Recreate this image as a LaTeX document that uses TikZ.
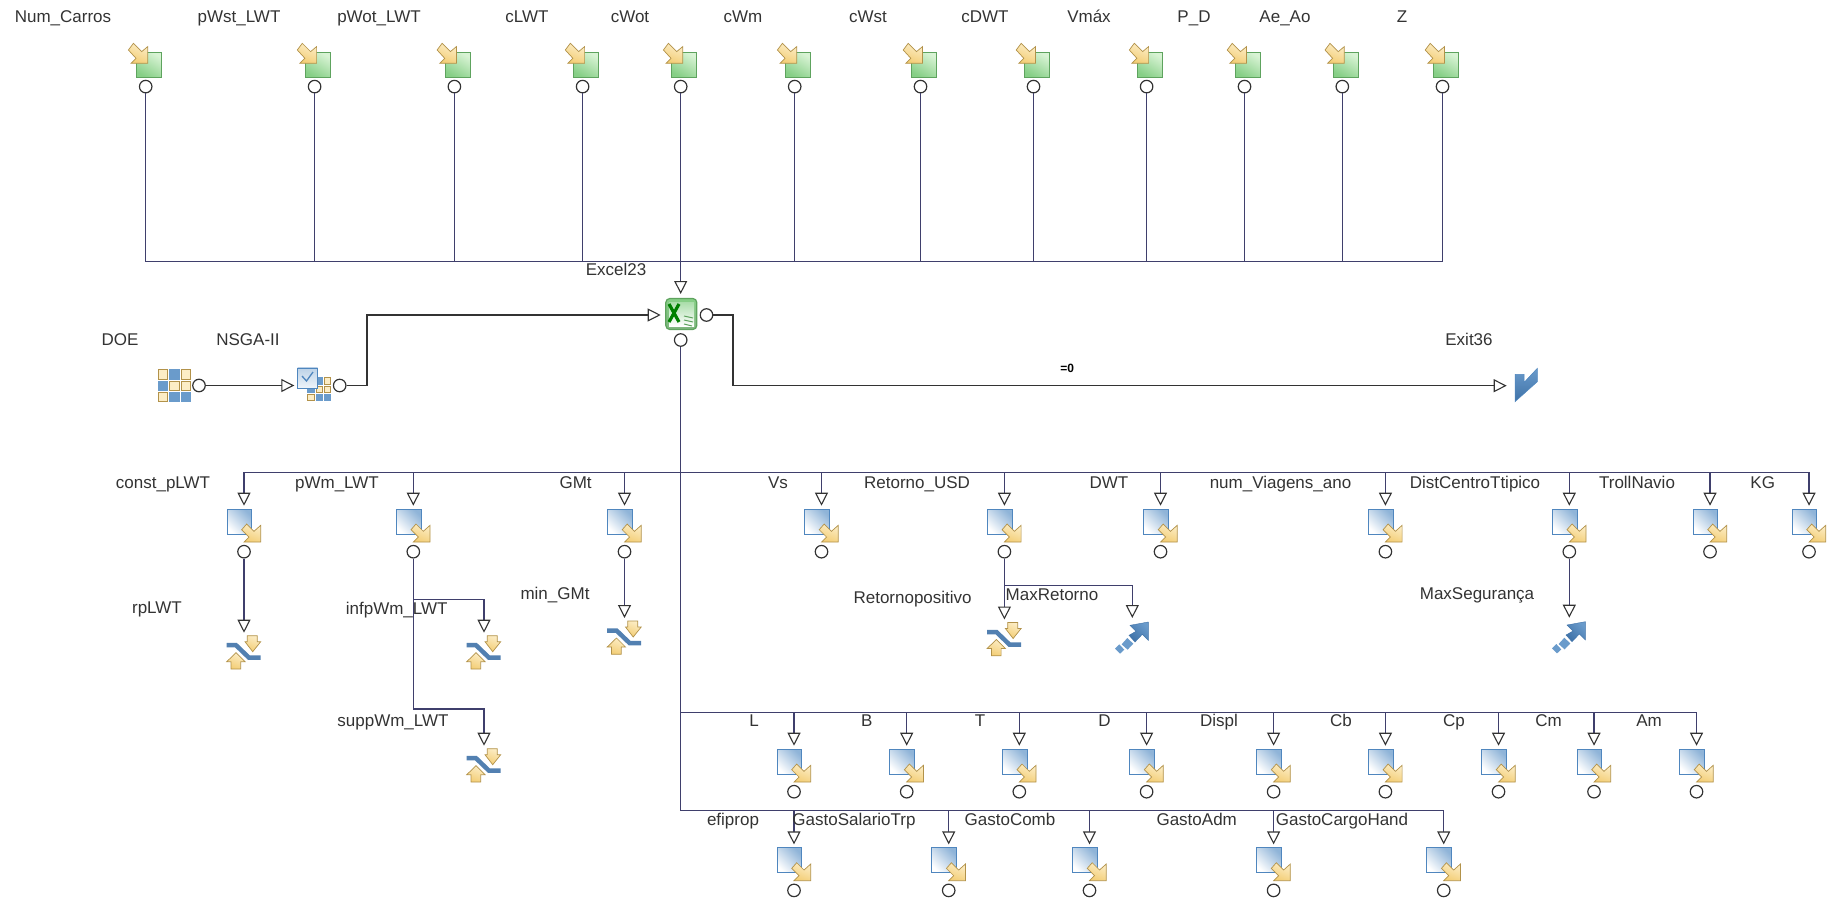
\documentclass[tikz,border=0pt]{standalone}
\usepackage{fontspec}
\setmainfont{Liberation Sans}
\usetikzlibrary{arrows.meta}

\definecolor{wireblue}{HTML}{3F3F6C}
\definecolor{wiredark}{HTML}{333333}
\definecolor{tanedge}{HTML}{B2924A}
\definecolor{tanlight}{HTML}{FCEDC6}
\definecolor{tandark}{HTML}{F3CD74}
\definecolor{steeledge}{HTML}{4F86BE}
\definecolor{steel}{HTML}{6A9BCB}
\definecolor{steeldark}{HTML}{3F72A8}
\definecolor{leaf}{HTML}{5EA35E}
\definecolor{leaflight}{HTML}{D8F3D4}
\definecolor{leafmid}{HTML}{86CF86}

\begin{document}
\begin{tikzpicture}[x=1pt,y=-1pt,>={Triangle[open,length=13pt,width=13pt,color=wiredark,fill=white]},
lbl/.style={font=\fontsize{17}{20}\selectfont,text=black!80,inner sep=0pt,text height=12.5pt,text depth=2pt},
link/.style={draw=wireblue,line width=1.1pt},
linkb/.style={draw=wiredark,line width=1.1pt},
port/.style={circle,draw=wiredark,fill=white,line width=1.2pt,minimum size=12.5pt,inner sep=0pt},
tanfill/.style={draw=tanedge,line width=.7pt,top color=tanlight,bottom color=tandark,shading angle=-20},
pics/varin/.style={code={
  \draw[draw=leaf,line width=.8pt,top color=leaflight,bottom color=leafmid,shading angle=-30] (-9,0) rectangle (16,25);
  \draw[tanfill] (2,-5.7)--(2,11)--(-14.7,11)--(-9.7,6)--(-17.3,-2.3)--(-12.3,-9)--(-4,-.7)--cycle;
  \node[port] (-out) at (0,34.3) {};
}},
pics/varout/.style={code={
  \draw[draw=steeledge,line width=.8pt,top color=steel!75,bottom color=white,shading angle=-45] (-17,0) rectangle (7.7,25);
  \draw[tanfill] (16.7,16.3)--(16.7,33)--(0,33)--(5,28)--(-2.3,20.7)--(2.7,15)--(10,22.3)--cycle;
  \coordinate (-in) at (0,-3.3);
  \node[port] (-out) at (0,42.7) {};
}},
pics/constr/.style={code={
  \coordinate (-in) at (0,0);
  \draw[tanfill] (3.3,3)--(13.3,3)--(13.3,9)--(16.7,9)--(8.7,19)--(1,9)--(3.3,9)--cycle;
  \draw[draw=steeldark!90!white,line width=4.5pt] (-17.3,12.5)--(-8,12.5)--(5,25)--(16.7,25);
  \draw[tanfill] (-8,20)--(1,29)--(-3.3,29)--(-3.3,36.3)--(-13,36.3)--(-13,29)--(-17.3,29)--cycle;
}},
pics/goal/.style={code={
  \coordinate (-in) at (0,0);
  \draw[draw=steeldark,top color=steel,bottom color=steeldark,shading angle=-45,line width=.4pt] (-2.3,7.3)--(16,4)--(16,22.3)--(10,16.3)--(2.7,24)--(-3.3,17.3)--(3.7,13.3)--cycle;
  \fill[steel] (-10.7,26.3)--(-5,20)--(1,25.7)--(-4.7,31.7)--cycle;
  \fill[steel] (-17.3,30.7)--(-13,26.3)--(-8,31.7)--(-12.3,35.7)--cycle;
}}]
\useasboundingbox (0,0) rectangle (1827,897);

% top row
\pic (NumCarros) at (145.7,52.3) {varin};
\pic (pWstLWT) at (314.6,52.3) {varin};
\pic (pWotLWT) at (454.4,52.3) {varin};
\pic (cLWT) at (582.6,52.3) {varin};
\pic (cWot) at (680.7,52.3) {varin};
\pic (cWm) at (794.7,52.3) {varin};
\pic (cWst) at (920.5,52.3) {varin};
\pic (cDWT) at (1033.5,52.3) {varin};
\pic (Vmax) at (1146.6,52.3) {varin};
\pic (PD) at (1244.5,52.3) {varin};
\pic (AeAo) at (1342.3,52.3) {varin};
\pic (Z) at (1442.5,52.3) {varin};
\node[lbl] (lNumCarros) at (63,17) {Num\_Carros};
\node[lbl] (lpWstLWT) at (239,17) {pWst\_LWT};
\node[lbl] (lpWotLWT) at (379,17) {pWot\_LWT};
\node[lbl] (lcLWT) at (527,17) {cLWT};
\node[lbl] (lcWot) at (630,17) {cWot};
\node[lbl] (lcWm) at (743,17) {cWm};
\node[lbl] (lcWst) at (868,17) {cWst};
\node[lbl] (lcDWT) at (985,17) {cDWT};
\node[lbl] (lVmax) at (1089,17) {Vmáx};
\node[lbl] (lPD) at (1194,17) {P\_D};
\node[lbl] (lAeAo) at (1285,17) {Ae\_Ao};
\node[lbl] (lZ) at (1402,17) {Z};
\coordinate (busT) at (680.7,261.3);
\draw[link] (NumCarros-out) |- (busT);
\draw[link] (pWstLWT-out) |- (busT);
\draw[link] (pWotLWT-out) |- (busT);
\draw[link] (cLWT-out) |- (busT);
\draw[link] (cWm-out) |- (busT);
\draw[link] (cWst-out) |- (busT);
\draw[link] (cDWT-out) |- (busT);
\draw[link] (Vmax-out) |- (busT);
\draw[link] (PD-out) |- (busT);
\draw[link] (AeAo-out) |- (busT);
\draw[link] (Z-out) |- (busT);

% excel block
\node[draw=leaf,line width=1.2pt,rounded corners=4pt,minimum size=31pt,inner sep=0pt,top color=leafmid,bottom color=leaf!80] (excel) at (681.3,314) {};
\shade[top color=leafmid!70,bottom color=white] (669,302) rectangle (694,326);
\draw[draw=green!50!black,line width=3.2pt] (669,304)--(679,322) (679,304)--(669,322);
\draw[draw=leaf,line width=1pt] (684,316)--(693,318) (684,320)--(693,322) (684,324)--(692,326);
\node[port] (excelE) at (706.5,315) {};
\node[port] (excelS) at (680.7,340) {};
\coordinate (excelN) at (680.7,294);
\coordinate (excelW) at (660.7,315);
\draw[link,->] (cWot-out)--(excelN);
\node[lbl] (lExcel) at (616,270) {Excel23};

% DOE and optimizer
\foreach \cx/\cy/\cc/\ce in {0/0/tanlight/tanedge,1/0/steel/steel,2/0/tanlight/tanedge,0/1/steel/steel,1/1/tanlight/tanedge,2/1/tanlight/tanedge,0/2/tanlight/tanedge,1/2/steel/steel,2/2/steel/steel}
  \draw[draw=\ce,line width=.7pt,fill=\cc] (158+\cx*11.6,369.5+\cy*11.4) rectangle +(9.5,9.5);
\node[port] (doeE) at (199,385.5) {};
\node[lbl] (lDOE) at (120,340) {DOE};
\foreach \cx/\cy/\cc/\ce in {1/0/steel/steel,2/0/tanlight/tanedge,0/1/steel/steel,1/1/tanlight/tanedge,2/1/tanlight/tanedge,0/2/tanlight/tanedge,1/2/steel/steel,2/2/steel/steel}
  \draw[draw=\ce,line width=.6pt,fill=\cc] (307.5+\cx*8.3,377.7+\cy*8.3) rectangle +(6.3,6.3);
\node[draw=steeledge,line width=.9pt,minimum width=20pt,minimum height=20.5pt,inner sep=0pt,top color=steel!45,bottom color=steel!10] (nsga) at (307.7,378.2) {};
\draw[draw=steeledge,line width=1.3pt] (302,376)--(306.5,381)--(313,372);
\coordinate (nsgaW) at (294.3,385.5);
\node[port] (nsgaE) at (339.7,385.5) {};
\node[lbl] (lNSGA) at (248,340) {NSGA-II};
\draw[linkb,->] (doeE)--(nsgaW);
\coordinate (midN) at (367,350);
\draw[linkb,->] (nsgaE) -| (midN) |- (excelW);

% exit
\draw[draw=steeledge,line width=.5pt,top color=steel,bottom color=steeldark] (1515,374.3)--(1524,374.3)--(1524,382.5)--(1537.3,368.3)--(1537.3,381.7)--(1515,401.7)--cycle;
\coordinate (exitW) at (1506.7,385.7);
\coordinate (midE) at (733,350);
\draw[linkb,->] (excelE) -| (midE) |- node[pos=.716,above=13pt,font=\fontsize{12}{14}\selectfont\bfseries,inner sep=0pt] (lEq) {=0} (exitW);
\node[lbl] (lExit) at (1469,340) {Exit36};

% main trunk
\coordinate (busB) at (680.7,472.7);
\coordinate (busL) at (680.7,712.3);
\coordinate (busG) at (680.7,810.7);
\draw[link] (excelS)--(busG);

% first row
\pic (constpLWT) at (244,509) {varout};
\pic (pWmLWT) at (413.3,509) {varout};
\pic (GMt) at (624.5,509) {varout};
\pic (Vs) at (821.5,509) {varout};
\pic (RetornoUSD) at (1004.4,509) {varout};
\pic (DWT) at (1160.5,509) {varout};
\pic (numViagens) at (1385.4,509) {varout};
\pic (DistCentro) at (1569.3,509) {varout};
\pic (TrollNavio) at (1710,509) {varout};
\pic (KG) at (1809,509) {varout};
\draw[link,->] (busB) -| (constpLWT-in);
\draw[link,->] (busB) -| (pWmLWT-in);
\draw[link,->] (busB) -| (GMt-in);
\draw[link,->] (busB) -| (Vs-in);
\draw[link,->] (busB) -| (RetornoUSD-in);
\draw[link,->] (busB) -| (DWT-in);
\draw[link,->] (busB) -| (numViagens-in);
\draw[link,->] (busB) -| (DistCentro-in);
\draw[link,->] (busB) -| (TrollNavio-in);
\draw[link,->] (busB) -| (KG-in);
\node[lbl] (lconstpLWT) at (163,483.5) {const\_pLWT};
\node[lbl] (lpWmLWT) at (337,483.5) {pWm\_LWT};
\node[lbl] (lGMt) at (575.6,483.5) {GMt};
\node[lbl] (lVs) at (778,483.5) {Vs};
\node[lbl] (lRetornoUSD) at (917,483.5) {Retorno\_USD};
\node[lbl] (lDWT) at (1109,483.5) {DWT};
\node[lbl] (lnumViagens) at (1280.5,483.5) {num\_Viagens\_ano};
\node[lbl] (lDistCentro) at (1475,483.5) {DistCentroTtipico};
\node[lbl] (lTrollNavio) at (1637,483.5) {TrollNavio};
\node[lbl] (lKG) at (1762.7,483.5) {KG};

% constraints and objectives
\pic (rpLWT) at (244,632.7) {constr};
\pic (infpWm) at (484,632.7) {constr};
\pic (suppWm) at (484,745.7) {constr};
\pic (minGMt) at (624.5,618) {constr};
\pic (Retornopos) at (1004.4,619.5) {constr};
\pic (MaxRetorno) at (1132.3,618) {goal};
\pic (MaxSeg) at (1569.3,617.7) {goal};
\coordinate (splitA) at (413.3,599.5);
\coordinate (splitB) at (413.3,709);
\coordinate (splitC) at (1004.4,585.7);
\draw[link,->] (constpLWT-out)--(rpLWT-in);
\draw[link] (pWmLWT-out)--(splitB);
\draw[link,->] (splitA) -| (infpWm-in);
\draw[link,->] (splitB) -| (suppWm-in);
\draw[link,->] (GMt-out)--(minGMt-in);
\draw[link,->] (RetornoUSD-out)--(Retornopos-in);
\draw[link,->] (splitC) -| (MaxRetorno-in);
\draw[link,->] (DistCentro-out)--(MaxSeg-in);
\node[lbl] (lrpLWT) at (157,608) {rpLWT};
\node[lbl] (linfpWm) at (396.7,609) {infpWm\_LWT};
\node[lbl] (lsuppWm) at (393,721) {suppWm\_LWT};
\node[lbl] (lminGMt) at (555,594) {min\_GMt};
\node[lbl] (lRetornopos) at (912.6,598) {Retornopositivo};
\node[lbl] (lMaxRetorno) at (1052,595) {MaxRetorno};
\node[lbl] (lMaxSeg) at (1477,594) {MaxSegurança};

% second row
\pic (L) at (794,749) {varout};
\pic (B) at (906.7,749) {varout};
\pic (T) at (1019.3,749) {varout};
\pic (D) at (1146.6,749) {varout};
\pic (Displ) at (1273.6,749) {varout};
\pic (Cb) at (1385.4,749) {varout};
\pic (Cp) at (1498.5,749) {varout};
\pic (Cm) at (1594,749) {varout};
\pic (Am) at (1696.5,749) {varout};
\draw[link,->] (busL) -| (L-in);
\draw[link,->] (busL) -| (B-in);
\draw[link,->] (busL) -| (T-in);
\draw[link,->] (busL) -| (D-in);
\draw[link,->] (busL) -| (Displ-in);
\draw[link,->] (busL) -| (Cb-in);
\draw[link,->] (busL) -| (Cp-in);
\draw[link,->] (busL) -| (Cm-in);
\draw[link,->] (busL) -| (Am-in);
\node[lbl] (lL) at (754,721.7) {L};
\node[lbl] (lB) at (866.7,721.7) {B};
\node[lbl] (lT) at (980,721.7) {T};
\node[lbl] (lD) at (1104.6,721.7) {D};
\node[lbl] (lDispl) at (1219,721.7) {Displ};
\node[lbl] (lCb) at (1341,721.7) {Cb};
\node[lbl] (lCp) at (1454,721.7) {Cp};
\node[lbl] (lCm) at (1548.5,721.7) {Cm};
\node[lbl] (lAm) at (1649,721.7) {Am};

% third row
\pic (efiprop) at (794,847.7) {varout};
\pic (GastoSalario) at (948.7,847.7) {varout};
\pic (GastoComb) at (1089.5,847.7) {varout};
\pic (GastoAdm) at (1273.6,847.7) {varout};
\pic (GastoCargo) at (1443.7,847.7) {varout};
\draw[link,->] (busG) -| (efiprop-in);
\draw[link,->] (busG) -| (GastoSalario-in);
\draw[link,->] (busG) -| (GastoComb-in);
\draw[link,->] (busG) -| (GastoAdm-in);
\draw[link,->] (busG) -| (GastoCargo-in);
\node[lbl] (lefiprop) at (733,820.7) {efiprop};
\node[lbl] (lGastoSalario) at (854,820.7) {GastoSalarioTrp};
\node[lbl] (lGastoComb) at (1010,820.7) {GastoComb};
\node[lbl] (lGastoAdm) at (1196.7,820.7) {GastoAdm};
\node[lbl] (lGastoCargo) at (1342,820.7) {GastoCargoHand};
\end{tikzpicture}
\end{document}
